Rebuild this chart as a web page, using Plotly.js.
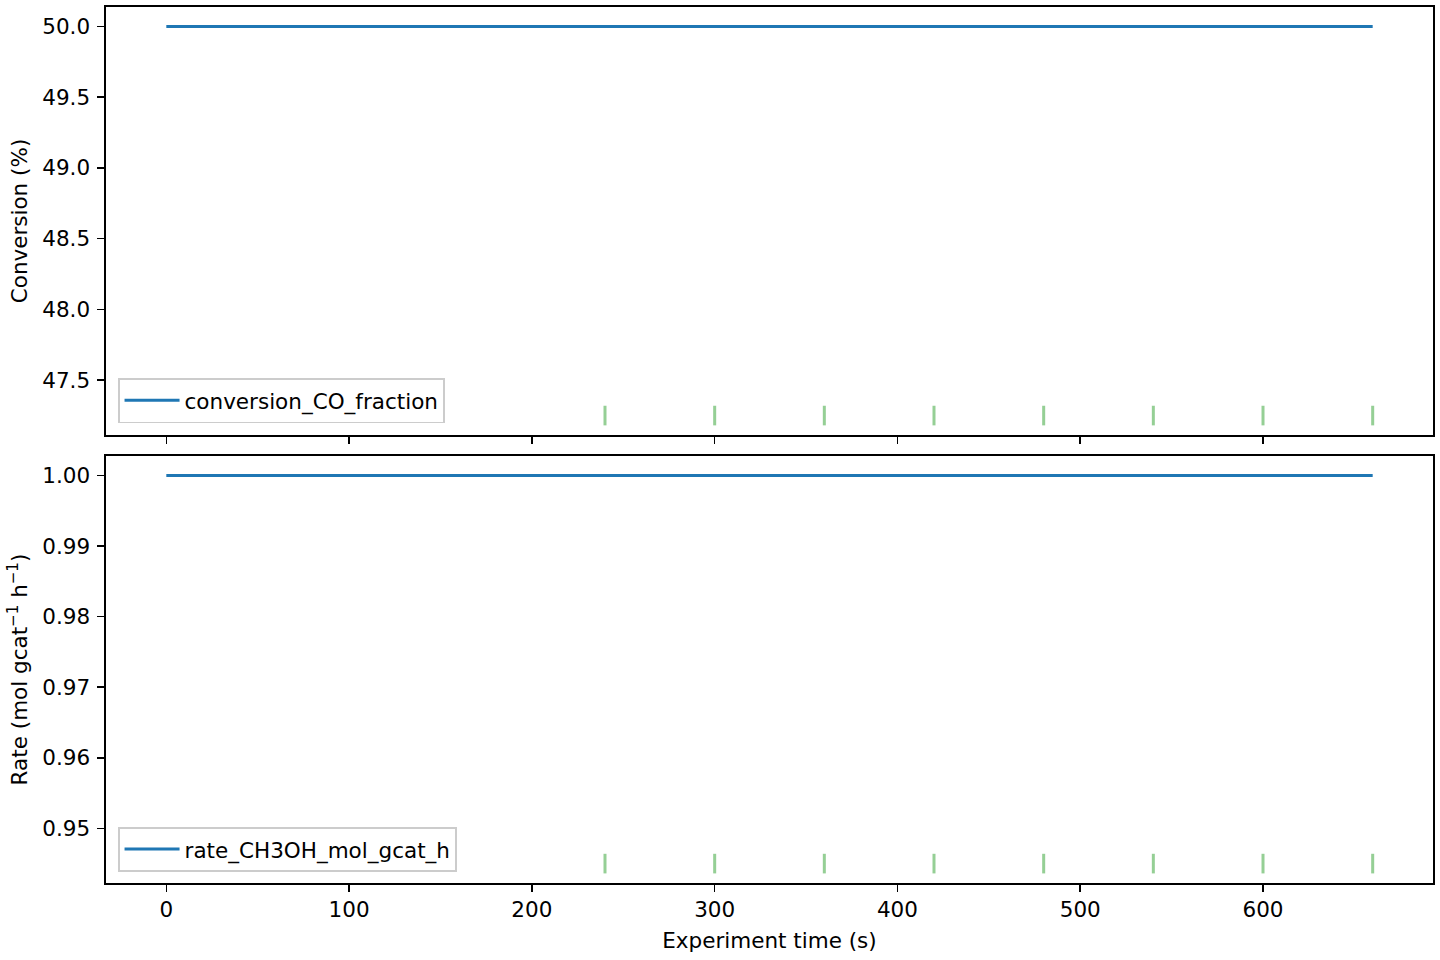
<!DOCTYPE html>
<html>
<head>
<meta charset="utf-8">
<script src="https://cdn.plot.ly/plotly-3.0.1.min.js"></script>
<style>
  html, body { margin: 0; padding: 0; background: white; }
  #chart { width: 1440px; height: 960px; }
</style>
</head>
<body>
<div id="chart"></div>
<script>
// data
let timeS = [0, 60, 120, 180, 240, 300, 360, 420, 480, 540, 600, 660]
let conversionCO = [50, 50, 50, 50, 50, 50, 50, 50, 50, 50, 50, 50]
let rateCH3OH = [1, 1, 1, 1, 1, 1, 1, 1, 1, 1, 1, 1]

// event markers along the bottom of each panel
let eventTimes = [240, 300, 360, 420, 480, 540, 600, 660]
let eventConv = [47.25, 47.25, 47.25, 47.25, 47.25, 47.25, 47.25, 47.25]
let eventRate = [0.945, 0.945, 0.945, 0.945, 0.945, 0.945, 0.945, 0.945]

const FONT = 'DejaVu Sans, sans-serif'
const FS = 21.5
const BLUE = '#1f77b4'
const GREEN = 'rgba(44,160,44,0.5)'

main();

function main() {
    let traces = [
        {
            x: timeS, y: conversionCO, type: 'scatter', mode: 'lines',
            name: 'conversion_CO_fraction',
            line: {color: BLUE, width: 3},
            xaxis: 'x', yaxis: 'y', legend: 'legend'
        },
        {
            x: eventTimes, y: eventConv, type: 'scatter', mode: 'markers',
            marker: {symbol: 'line-ns', size: 14, line: {color: GREEN, width: 3}},
            showlegend: false, xaxis: 'x', yaxis: 'y'
        },
        {
            x: timeS, y: rateCH3OH, type: 'scatter', mode: 'lines',
            name: 'rate_CH3OH_mol_gcat_h',
            line: {color: BLUE, width: 3},
            xaxis: 'x2', yaxis: 'y2', legend: 'legend2'
        },
        {
            x: eventTimes, y: eventRate, type: 'scatter', mode: 'markers',
            marker: {symbol: 'line-ns', size: 14, line: {color: GREEN, width: 3}},
            showlegend: false, xaxis: 'x2', yaxis: 'y2'
        }
    ]

    let axisBase = {
        showline: true, mirror: true, linecolor: '#000', linewidth: 1.6,
        ticks: 'outside', ticklen: 7, tickwidth: 1.6, tickcolor: '#000',
        ticklabelstandoff: 3,
        showgrid: false, zeroline: false,
        tickfont: {family: FONT, size: FS, color: '#000'}
    }

    let legendBase = {
        xref: 'paper', yref: 'paper', x: 0.009, xanchor: 'left', yanchor: 'bottom',
        bgcolor: 'rgba(255,255,255,0.8)', bordercolor: '#cccccc', borderwidth: 1.6,
        itemwidth: 55,
        font: {family: FONT, size: FS, color: '#000'}
    }

    let layout = {
        width: 1440, height: 960,
        margin: {l: 106, r: 7, t: 7, b: 77},
        paper_bgcolor: 'white', plot_bgcolor: 'white',
        font: {family: FONT, size: FS, color: '#000'},
        xaxis: Object.assign({}, axisBase, {
            domain: [0, 1], range: [-33, 693], anchor: 'y',
            matches: 'x2', showticklabels: false, dtick: 100
        }),
        yaxis: Object.assign({}, axisBase, {
            domain: [0.5114, 1], range: [47.1125, 50.1375], anchor: 'x',
            dtick: 0.5, tickformat: '.1f',
            title: {text: 'Conversion (%)', standoff: 8, font: {family: FONT, size: FS}}
        }),
        xaxis2: Object.assign({}, axisBase, {
            domain: [0, 1], range: [-33, 693], anchor: 'y2', dtick: 100,
            ticklabelstandoff: 0,
            title: {text: 'Experiment time (s)', standoff: 11, font: {family: FONT, size: FS}}
        }),
        yaxis2: Object.assign({}, axisBase, {
            domain: [0, 0.4874], range: [0.94225, 1.00275], anchor: 'x2',
            dtick: 0.01, tickformat: '.2f',
            title: {text: 'Rate (mol gcat<sup>−1</sup> h<sup>−1</sup>)', standoff: 8, font: {family: FONT, size: FS}}
        }),
        legend: Object.assign({}, legendBase, {y: 0.525}),
        legend2: Object.assign({}, legendBase, {y: 0.0125})
    }

    Plotly.newPlot('chart', traces, layout, {displayModeBar: false, staticPlot: true});
}
</script>
</body>
</html>
